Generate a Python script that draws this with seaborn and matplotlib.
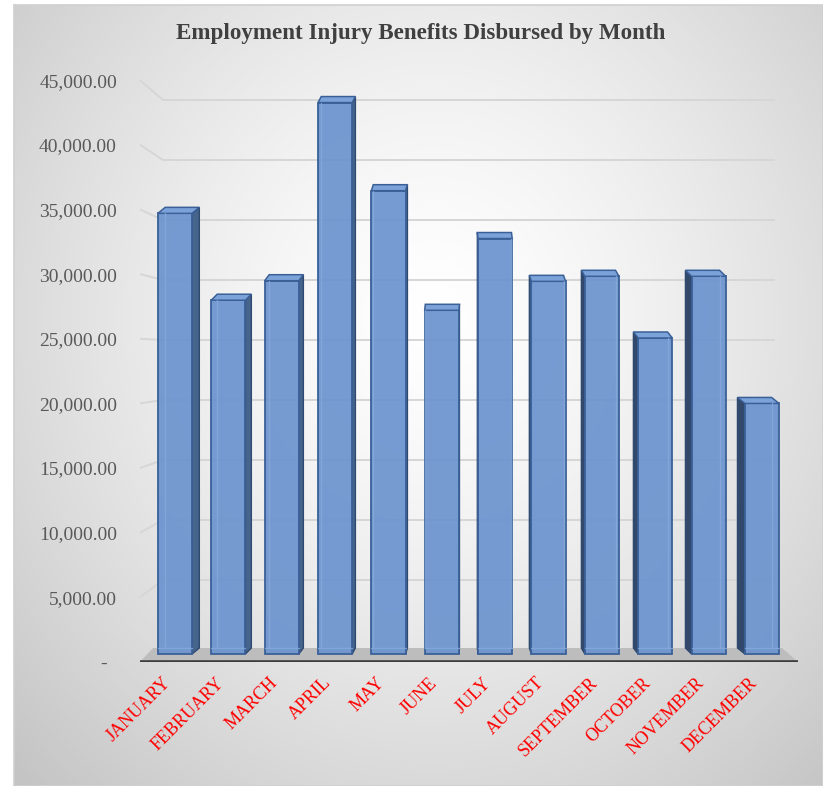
import numpy as np
import pandas as pd
import matplotlib
matplotlib.use("Agg")
import matplotlib.pyplot as plt
from matplotlib.patches import Polygon
from matplotlib.transforms import ScaledTranslation
import seaborn as sns

# ---- data -------------------------------------------------------------
months = ["JANUARY", "FEBRUARY", "MARCH", "APRIL", "MAY", "JUNE",
          "JULY", "AUGUST", "SEPTEMBER", "OCTOBER", "NOVEMBER", "DECEMBER"]
benefits = [35000, 28100, 29650, 43800, 36800, 27300,
            33000, 29600, 30000, 25100, 30000, 19900]
tick_values = [0, 5000, 10000, 15000, 20000, 25000, 30000, 35000, 40000, 45000]
tick_labels = ["-  ", "5,000.00", "10,000.00", "15,000.00", "20,000.00",
               "25,000.00", "30,000.00", "35,000.00", "40,000.00", "45,000.00"]
title = "Employment Injury Benefits Disbursed by Month"

df = pd.DataFrame({"month": months, "benefit": benefits})

# ---- figure geometry (pixels) ------------------------------------------
W, H, DPI = 823, 786, 100
sns.set_theme(style="white")
plt.rcParams["font.family"] = ["Liberation Serif", "DejaVu Serif"]

fig = plt.figure(figsize=(W / DPI, H / DPI), dpi=DPI, facecolor="white")

# chart-area background with a soft radial gradient
bg = fig.add_axes([14 / W, 0, 1 - 14 / W, (H - 5) / H], zorder=0)
gx, gy = np.meshgrid(np.linspace(0, 1, 400), np.linspace(0, 1, 400))
r = np.sqrt(((gx - 0.52) / 0.75) ** 2 + ((gy - 0.40) / 0.85) ** 2)
shade = 1.0 - 0.24 * np.clip(r, 0, 1) ** 1.4
bg.imshow(np.dstack([shade] * 3), extent=(0, 1, 0, 1), origin="upper",
          aspect="auto", interpolation="bilinear")
bg.set_xticks([]); bg.set_yticks([])
for s in bg.spines.values():
    s.set_color("#d0d0d0"); s.set_linewidth(1.2)

# plot axes: pixel <-> data helpers for the perspective decorations
AX_L, AX_R, AX_T, AX_B = 128, 805, 80, 662
BAR_BASE, BAR_SCALE = 654, 0.01259      # px of value 0, px per unit (bar plane)
X0, XSTEP = 175, 53.36                   # px of first category, px per category


def px_x(px):
    return (px - X0) / XSTEP


def px_y(py):
    return (BAR_BASE - py) / BAR_SCALE


ax = fig.add_axes([AX_L / W, (H - AX_B) / H, (AX_R - AX_L) / W, (AX_B - AX_T) / H],
                  zorder=1)
ax.patch.set_alpha(0)

sns.barplot(data=df, x="month", y="benefit", order=months, color="#6b95cf",
            saturation=1, width=0.64, edgecolor="#3b6097", linewidth=1.3,
            ax=ax, zorder=5)

ax.set_xlim(px_x(AX_L), px_x(AX_R))
ax.set_ylim(px_y(AX_B), px_y(AX_T))

# back-wall gridlines with their slanted leaders toward the value labels
for v in tick_values[1:]:
    front = 662 - v * 0.01293
    back = 640 - v * 0.012
    ax.plot([px_x(140), px_x(163), px_x(775)], [px_y(front), px_y(back), px_y(back)],
            color="#d6d6d6", lw=1.4, zorder=1, solid_capstyle="butt")

# floor
floor = Polygon([(px_x(140), px_y(662)), (px_x(798), px_y(662)),
                 (px_x(782), px_y(648)), (px_x(153), px_y(648))],
                closed=True, facecolor="#bdbdbd", edgecolor="none", zorder=2)
ax.add_patch(floor)
ax.plot([px_x(140), px_x(798)], [px_y(662), px_y(662)], color="#3d3d3d",
        lw=2.6, zorder=3, solid_capstyle="butt")

# depth faces (top + side) built from each bar's own geometry
VANISH = 465
TOP_PX = 6
dy = TOP_PX / BAR_SCALE
for bar in ax.patches:
    if bar is floor:
        continue
    xl = bar.get_x()
    xr = xl + bar.get_width()
    yb = bar.get_y()
    yt = yb + bar.get_height()
    xc_px = X0 + (xl + xr) / 2 * XSTEP
    dx = 0.025 * (VANISH - xc_px) / XSTEP
    bar.set_facecolor((0.42, 0.58, 0.81, 0.93))
    top = Polygon([(xl, yt), (xr, yt), (xr + dx, yt + dy), (xl + dx, yt + dy)],
                  closed=True, facecolor="#7ca3d9", edgecolor="#3b6097",
                  lw=1.1, zorder=6)
    ax.add_patch(top)
    if dx > 0:
        side = [(xr, yt), (xr + dx, yt + dy), (xr + dx, yb + dy), (xr, yb)]
        sc = "#46648c"
        inner_x = xl + dx
    else:
        side = [(xl, yt), (xl + dx, yt + dy), (xl + dx, yb + dy), (xl, yb)]
        sc = "#33496b"
        inner_x = xr + dx
    ax.add_patch(Polygon(side, closed=True, facecolor=sc, edgecolor="#2f4a70",
                         lw=1.0, zorder=4))
    # faint back edges seen through the translucent front face
    ax.plot([inner_x, inner_x], [yb + dy, yt], color="#86aadb", lw=1.0,
            alpha=0.8, zorder=6)
    ax.plot([xl, xr], [yb + dy, yb + dy], color="#86aadb", lw=1.0,
            alpha=0.8, zorder=6)

# value axis labels placed on the front plane
ax.set_yticks([px_y(662 - v * 0.01293) for v in tick_values])
ax.set_yticklabels(tick_labels)
ax.tick_params(axis="y", length=0, pad=8, labelsize=14, labelcolor="#595959")

ax.set_xticks(range(len(months)))
ax.set_xticklabels(months, rotation=45, ha="right", va="top",
                   rotation_mode="anchor")
ax.tick_params(axis="x", length=0, pad=9, labelsize=13, labelcolor="red")
shift = ScaledTranslation(-13 / DPI, 0, fig.dpi_scale_trans)
for lab in ax.get_xticklabels():
    lab.set_transform(lab.get_transform() + shift)

ax.set_xlabel("")
ax.set_ylabel("")
sns.despine(ax=ax, left=True, bottom=True)
ax.grid(False)

fig.text(421 / W, 1 - 34 / H, title, ha="center", va="center",
         fontsize=16.6, fontweight="bold", color="#404040",
         family=["Liberation Serif", "DejaVu Serif"])

fig.savefig("out.png", dpi=DPI, facecolor="white")
